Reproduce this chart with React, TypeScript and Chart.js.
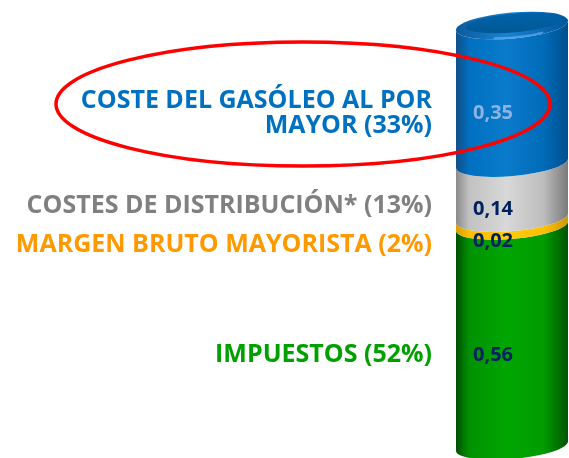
import React, { useEffect, useRef } from 'react';
import { Chart, registerables } from 'chart.js';

Chart.register(...registerables);

// ---- data (bottom to top of the stack) ----
const categoryLines: string[][] = [
  ['IMPUESTOS (52%)'],
  ['MARGEN BRUTO MAYORISTA (2%)'],
  ['COSTES DE DISTRIBUCIÓN* (13%)'],
  ['COSTE DEL GASÓLEO AL POR', 'MAYOR (33%)'],
];
const values = [0.56, 0.02, 0.14, 0.35];
const textColors = ['#00a000', '#ff9900', '#808080', '#0070c0'];
const valueColors = ['#002060', '#002060', '#002060', '#8db3e2'];
const shades: string[][] = [
  ['#004f00', '#009200', '#00a600', '#009c00', '#005400'],
  ['#d8a000', '#ffc000', '#ffca10', '#ffc000', '#cf9800'],
  ['#8a8a8a', '#c2c2c2', '#d8d8d8', '#bdbdbd', '#7a7a7a'],
  ['#124f88', '#0070c0', '#0a7acb', '#006cb8', '#004f8e'],
];

const FONT = '"Open Sans", "Noto Sans", sans-serif';
const TILT = -0.088;
const RY = 13;

const fmt = (v: number) => v.toFixed(2).replace('.', ',');

const cylinderPlugin = {
  id: 'cylinder',
  afterDatasetsDraw(chart: any) {
    const ctx: CanvasRenderingContext2D = chart.ctx;
    const segs = chart.data.datasets.map((_: any, i: number) => {
      const el = chart.getDatasetMeta(i).data[0] as any;
      const top = Math.min(el.y, el.base);
      const bot = Math.max(el.y, el.base);
      return { left: el.x - el.width / 2, right: el.x + el.width / 2, cx: el.x, top, bot };
    });
    ctx.save();
    segs.forEach((s: any, i: number) => {
      const w = s.right - s.left;
      const rx = w / 2 / Math.cos(TILT);
      const g = ctx.createLinearGradient(s.left, 0, s.right, 0);
      const st = shades[i];
      g.addColorStop(0, st[0]);
      g.addColorStop(0.12, st[1]);
      g.addColorStop(0.45, st[2]);
      g.addColorStop(0.78, st[3]);
      g.addColorStop(1, st[4]);
      ctx.beginPath();
      ctx.ellipse(s.cx, s.top, rx, RY, TILT, 0, Math.PI, false);
      ctx.ellipse(s.cx, s.bot, rx, RY, TILT, Math.PI, 0, true);
      ctx.closePath();
      ctx.fillStyle = g;
      ctx.fill();
    });
    // top cap
    const t = segs[segs.length - 1];
    const w = t.right - t.left;
    const rx = w / 2 / Math.cos(TILT);
    const rim = ctx.createLinearGradient(t.left, 0, t.right, 0);
    rim.addColorStop(0, '#0e5a9c');
    rim.addColorStop(0.45, '#1a82d2');
    rim.addColorStop(1, '#00579a');
    ctx.beginPath();
    ctx.ellipse(t.cx, t.top, rx, RY, TILT, 0, Math.PI * 2);
    ctx.fillStyle = rim;
    ctx.fill();
    const face = ctx.createLinearGradient(0, t.top - RY, 0, t.top + RY);
    face.addColorStop(0, '#0062aa');
    face.addColorStop(1, '#00568f');
    ctx.beginPath();
    ctx.ellipse(t.cx + 2, t.top - 2.5, rx * 0.86, RY * 0.72, TILT, 0, Math.PI * 2);
    ctx.fillStyle = face;
    ctx.fill();
    // soft highlight on the front rim
    ctx.beginPath();
    ctx.ellipse(t.cx, t.top, rx * 0.92, RY * 0.92, TILT, Math.PI * 0.3, Math.PI * 0.62);
    ctx.strokeStyle = 'rgba(120,190,255,0.55)';
    ctx.lineWidth = 2;
    ctx.stroke();
    ctx.restore();
  },
  afterDraw(chart: any) {
    const ctx: CanvasRenderingContext2D = chart.ctx;
    ctx.save();
    const metas = chart.data.datasets.map((_: any, i: number) => chart.getDatasetMeta(i).data[0] as any);
    const VAL_OFF = 17.5;
    const centers = metas.map((el: any) => (el.y + el.base) / 2 + VAL_OFF);
    // value labels
    ctx.font = `bold 20px ${FONT}`;
    ctx.textAlign = 'left';
    ctx.textBaseline = 'alphabetic';
    metas.forEach((el: any, i: number) => {
      ctx.fillStyle = valueColors[i];
      ctx.fillText(fmt(values[i]), el.x - el.width / 2 + 17, centers[i] + 7.2);
    });
    // category labels, spread apart where they would overlap
    const LINE = 24.5;
    const pos = centers.slice();
    const h = categoryLines.map((l) => l.length * LINE);
    for (let pass = 0; pass < 5; pass++) {
      for (let i = 0; i < pos.length - 1; i++) {
        const need = (h[i] + h[i + 1]) / 2 + 14.5;
        const gap = pos[i] - pos[i + 1];
        if (gap < need) {
          const d = (need - gap) / 2;
          pos[i] += d;
          pos[i + 1] -= d;
        }
      }
    }
    ctx.font = `bold 25px ${FONT}`;
    ctx.textAlign = 'right';
    const xRight = metas[0].x - metas[0].width / 2 - 24;
    categoryLines.forEach((lines, i) => {
      ctx.fillStyle = textColors[i];
      const first = pos[i] - ((lines.length - 1) * LINE) / 2;
      lines.forEach((ln, j) => {
        ctx.fillText(ln, xRight, first + j * LINE + 8.9);
      });
    });
    // red highlight ellipse around the first category
    ctx.beginPath();
    ctx.ellipse(303, 104, 247, 62, 0, 0, Math.PI * 2);
    ctx.strokeStyle = '#ff0000';
    ctx.lineWidth = 3.5;
    ctx.stroke();
    ctx.restore();
  },
};

export default function App() {
  const ref = useRef<HTMLCanvasElement | null>(null);
  useEffect(() => {
    document.body.style.margin = '0';
    const total = values.reduce((a, b) => a + b, 0);
    const chart = new Chart(ref.current as HTMLCanvasElement, {
      type: 'bar',
      data: {
        labels: [''],
        datasets: values.map((v, i) => ({
          label: categoryLines[i].join(' '),
          data: [v],
          backgroundColor: 'rgba(0,0,0,0)',
          borderWidth: 0,
          barPercentage: 1,
          categoryPercentage: 1,
        })),
      },
      options: {
        animation: false,
        responsive: true,
        maintainAspectRatio: false,
        layout: { padding: { left: 456, right: 1, top: 25.5, bottom: 12 } },
        plugins: { legend: { display: false }, tooltip: { enabled: false } },
        scales: {
          x: { display: false, stacked: true },
          y: { display: false, stacked: true, min: 0, max: total },
        },
      },
      plugins: [cylinderPlugin],
    });
    return () => chart.destroy();
  }, []);
  return (
    <div style={{ width: 569, height: 458, position: 'relative' }}>
      <canvas ref={ref} />
    </div>
  );
}
